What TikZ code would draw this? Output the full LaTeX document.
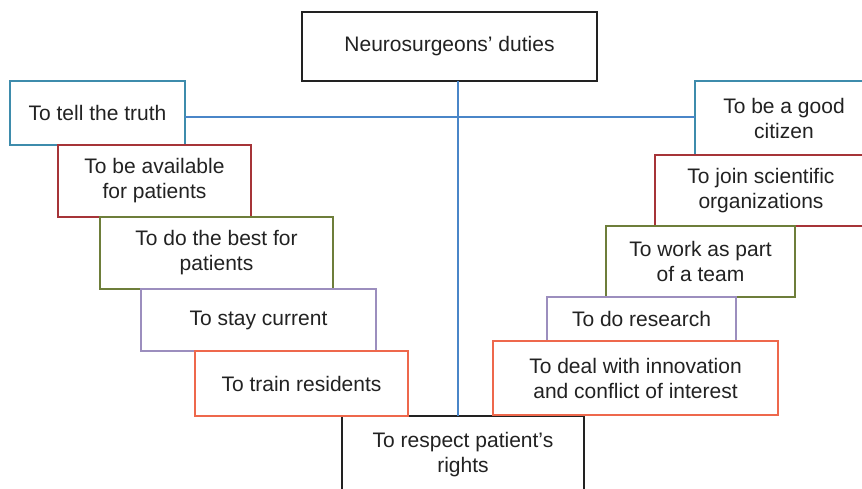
\documentclass[tikz,border=0pt]{standalone}
\usepackage{fontspec}
\setmainfont{Liberation Sans}
\definecolor{dutyteal}{RGB}{62,140,172}
\definecolor{dutyred}{RGB}{166,52,56}
\definecolor{dutyolive}{RGB}{110,126,58}
\definecolor{dutylilac}{RGB}{156,142,190}
\definecolor{dutyorange}{RGB}{238,104,76}
\definecolor{linkblue}{RGB}{74,134,200}
\definecolor{inkgray}{RGB}{34,34,34}
\begin{document}
\begin{tikzpicture}[x=1pt, y=-1pt,
        duty/.style={draw=#1, line width=0.65pt, fill=white, inner sep=0pt, outer sep=0pt,
            align=center, text=inkgray, font=\fontsize{10.5}{12.5}\selectfont},
        link/.style={draw=linkblue, line width=0.65pt}]
            \useasboundingbox (0,0) rectangle (431,244);
            \clip (0,0) rectangle (431,244);
            \coordinate (hub) at (229,58.5);

            % title and bottom
            \node[duty=inkgray, minimum width=147.5pt, minimum height=34.5pt]
                (duties) at (224.75,23.25) {Neurosurgeons' duties};
            \node[duty=inkgray, minimum width=121pt, minimum height=39pt]
                (rights) at (231.5,227.5) {To respect patient's\\rights};

            % connectors
            \draw[link] (hub |- duties.south) -- (hub |- rights.north);

            % left stair
            \node[duty=dutyteal, minimum width=87.5pt, minimum height=32pt]
                (truth) at (48.75,56.5) {To tell the truth};
            \node[duty=dutyred, minimum width=96.5pt, minimum height=36pt]
                (available) at (77.25,90.5) {To be available\\for patients};
            \node[duty=dutyolive, minimum width=116.5pt, minimum height=36pt]
                (best) at (108.25,126.5) {To do the best for\\patients};
            \node[duty=dutylilac, minimum width=117.5pt, minimum height=31pt]
                (current) at (129.25,160) {To stay current};
            \node[duty=dutyorange, minimum width=106.5pt, minimum height=32.5pt]
                (train) at (150.75,191.75) {To train residents};

            % right stair
            \node[duty=dutyteal, minimum width=89pt, minimum height=37pt]
                (citizen) at (392,59) {To be a good\\citizen};
            \node[duty=dutyred, minimum width=106pt, minimum height=35.5pt]
                (join) at (380.5,95.25) {To join scientific\\organizations};
            \node[duty=dutyolive, minimum width=94.5pt, minimum height=35.5pt]
                (work) at (350.25,130.75) {To work as part\\of a team};
            \node[duty=dutylilac, minimum width=94.5pt, minimum height=22pt]
                (research) at (320.75,159.5) {To do research};
            \node[duty=dutyorange, minimum width=142.5pt, minimum height=37pt]
                (innovation) at (317.75,189) {To deal with innovation\\and conflict of interest};

            \draw[link] (truth.east |- hub) -- (citizen.west |- hub);
        \end{tikzpicture}
\end{document}
